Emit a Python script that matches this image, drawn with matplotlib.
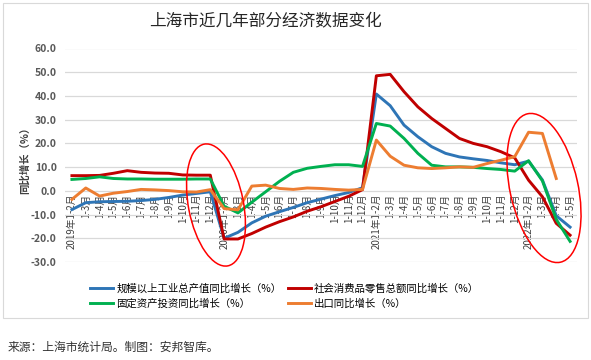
import numpy as np
import matplotlib
matplotlib.use("Agg")
import matplotlib.pyplot as plt
from matplotlib.patches import Ellipse, Rectangle

plt.rcParams['font.family'] = ['Noto Sans CJK SC', 'DejaVu Sans']

# categories: cumulative months, 2019-2022
months = ['1-2月', '1-3月', '1-4月', '1-5月', '1-6月', '1-7月', '1-8月',
          '1-9月', '1-10月', '1-11月', '1-12月']
labels = (['2019年' + months[0]] + months[1:]
          + ['2020年' + months[0]] + months[1:]
          + ['2021年' + months[0]] + months[1:]
          + ['2022年1-2月', '1-3月', '1-4月', '1-5月'])

# 规模以上工业总产值同比增长
industry = [-7.9, -5.0, -4.6, -4.5, -4.4, -4.1, -3.6, -2.8, -1.8, -1.1, -0.4,
            -20.0, -17.5, -13.5, -10.7, -8.8, -7.0, -5.0, -3.5, -2.0, -0.7, 1.3,
            40.8, 35.9, 27.7, 22.8, 18.6, 15.8, 14.3, 13.5, 12.8, 11.8, 11.0,
            12.5, 4.6, -10.5, -15.3]
# 社会消费品零售总额同比增长
retail = [6.4, 6.4, 6.5, 7.4, 8.5, 7.8, 7.5, 7.4, 6.7, 6.6, 6.6,
          -20.3, -20.3, -18.0, -15.3, -13.0, -11.0, -8.6, -6.7, -4.5, -2.3, 0.5,
          48.5, 49.1, 41.8, 35.4, 30.5, 26.3, 22.1, 20.0, 18.6, 16.5, 13.9,
          4.5, -2.5, -13.7, -18.7]
# 固定资产投资同比增长
invest = [4.8, 5.2, 5.9, 5.2, 5.0, 5.0, 4.9, 4.9, 4.9, 5.0, 5.0,
          -6.5, -9.3, -4.8, -0.4, 4.0, 7.8, 9.5, 10.3, 11.0, 11.0, 10.3,
          28.4, 27.3, 22.1, 15.8, 10.8, 10.1, 10.1, 9.9, 9.4, 9.0, 8.3,
          12.7, 4.2, -12.0, -21.3]
# 出口同比增长
export = [-3.6, 1.2, -2.2, -1.0, -0.3, 0.6, 0.4, 0.1, -0.4, -0.5, 0.5,
          -7.5, -8.0, 2.0, 2.4, 1.0, 0.6, 1.2, 1.0, 0.6, 0.3, 0.6,
          21.4, 14.6, 10.8, 9.7, 9.4, 9.7, 10.1, 9.9, 11.5, 12.9, 14.4,
          24.7, 24.2, 5.2, np.nan]

W, H = 591, 360
fig = plt.figure(figsize=(W / 100, H / 100), dpi=100)
ax = fig.add_axes([65 / W, 1 - 262 / H, (577 - 65) / W, (262 - 48.5) / H])

x = np.arange(len(labels))
l1, = ax.plot(x, industry, color='#2E75B6', lw=2.1, label='规模以上工业总产值同比增长（%）')
l2, = ax.plot(x, retail, color='#C00000', lw=2.1, label='社会消费品零售总额同比增长（%）')
l3, = ax.plot(x, invest, color='#00B050', lw=2.1, label='固定资产投资同比增长（%）')
l4, = ax.plot(x, export, color='#ED7D31', lw=2.1, label='出口同比增长（%）')

ax.set_xlim(-0.5, len(labels) - 0.5)
ax.set_ylim(-30, 60)
ax.set_yticks(np.arange(-30, 61, 10))
ax.set_yticklabels([f'{v:.1f}' for v in np.arange(-30, 61, 10)],
                   fontsize=7.5, fontweight='bold', color='#595959')
ax.grid(axis='y', color='#D9D9D9', lw=0.9)
ax.set_axisbelow(True)
for s in ax.spines.values():
    s.set_visible(False)
ax.tick_params(axis='y', length=0, pad=6)

# category labels hang from the zero line
ax.spines['bottom'].set_position(('data', 0))
ax.set_xticks(x)
ax.set_xticklabels(labels, rotation=90, fontsize=7, color='#404040', va='top', ha='center')
ax.tick_params(axis='x', length=0, pad=2)

fig.text(25 / W, 1 - 158 / H, '同比增长（%）', rotation=90, ha='center', va='center',
         fontsize=7.5, fontweight='bold', color='#404040')
fig.text(265 / W, 1 - 22 / H, '上海市近几年部分经济数据变化', ha='center', va='center',
         fontsize=12, color='#262626')

fig.legend([l1, l3, l2, l4], [l.get_label() for l in (l1, l3, l2, l4)],
           loc='upper left', bbox_to_anchor=(81 / W, 1 - 274 / H), ncol=2,
           frameon=False, handlelength=2.2, handletextpad=0.3,
           columnspacing=0.6, labelspacing=0.45, prop={'size': 7.5})

# red circles (pixel positions -> inches)
tr = fig.dpi_scale_trans
for cx, cy, w, h, ang in [(216, 205, 55, 124, 11), (544, 188, 68, 152, 12.5)]:
    fig.patches.append(Ellipse((cx / 100, (H - cy) / 100), w / 100, h / 100, angle=ang,
                               transform=tr, fill=False, ec='#FF0000', lw=1.1, zorder=5))

fig.patches.append(Rectangle((3 / W, 1 - 318 / H), 585 / W, 315 / H, transform=fig.transFigure,
                             fill=False, ec='#D9D9D9', lw=0.8))

fig.text(8 / W, 1 - 347 / H, '来源：上海市统计局。制图：安邦智库。', ha='left', va='center',
         fontsize=8.5, color='#333333')

fig.savefig('out.png', dpi=100)
